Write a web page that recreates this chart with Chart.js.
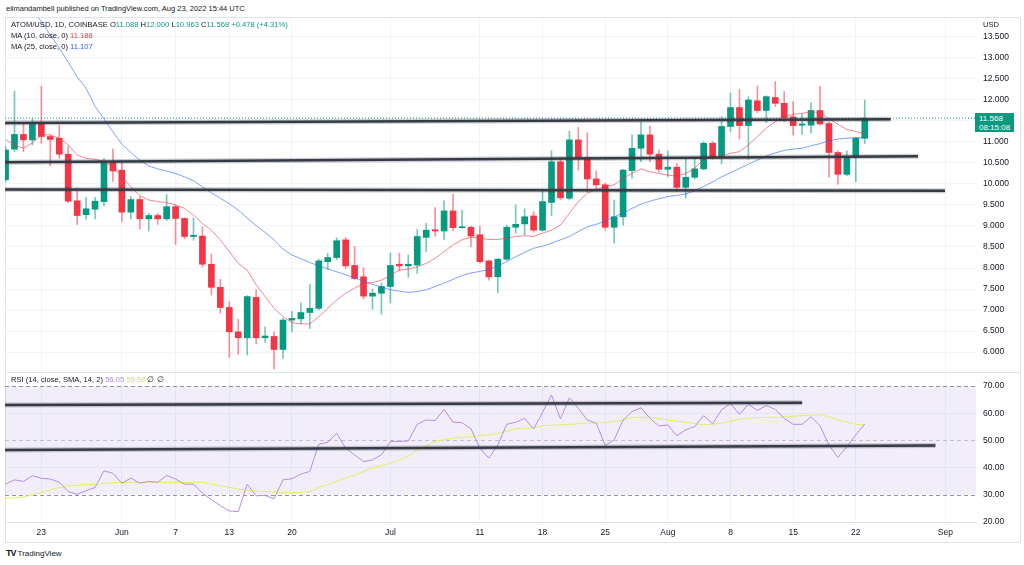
<!DOCTYPE html>
<html><head><meta charset="utf-8">
<script src="https://cdn.jsdelivr.net/npm/chart.js@4.4.0/dist/chart.umd.min.js"></script>
<style>
html,body{margin:0;padding:0;background:#fff;width:1024px;height:565px;overflow:hidden;font-family:'Liberation Sans','Noto Sans',sans-serif;}
.abs{position:absolute;white-space:nowrap;line-height:1;}
#frame{position:absolute;left:5px;top:17px;width:1016px;height:526px;border:1px solid #e0e3eb;box-sizing:border-box;}
#sep{position:absolute;left:5px;top:372px;width:1016px;height:1px;background:#e0e3eb;}
canvas{position:absolute;left:0;}
.g{color:#089981}.r{color:#f23645}.b{color:#2962ff}
</style></head>
<body>
<div id="frame"></div>
<canvas id="cp" width="1024" height="354" style="top:18px"></canvas>
<canvas id="cr" width="1024" height="170" style="top:372px"></canvas>
<div id="sep"></div>
<div class="abs" style="left:6px;top:5px;font-size:7.5px;color:#131722">elimandambell published on TradingView.com, Aug 23, 2022 15:44 UTC</div>
<div class="abs" style="left:11px;top:21px;font-size:7.6px;color:#131722">ATOM/USD, 1D, COINBASE O<span class="g">11.088</span> H<span class="g">12.000</span> L<span class="g">10.963</span> C<span class="g">11.568</span> <span class="g">+0.478 (+4.31%)</span></div>
<div class="abs" style="left:11px;top:32px;font-size:7.6px;color:#131722">MA (10, close, 0) <span class="r">11.188</span></div>
<div class="abs" style="left:11px;top:43px;font-size:7.6px;color:#131722">MA (25, close, 0) <span class="b">11.107</span></div>
<div class="abs" style="left:983px;top:21px;font-size:7.6px;color:#131722">USD</div>
<div class="abs" style="left:975px;top:113px;width:39px;height:19px;background:#089981;color:#fff;font-size:8px;padding:2px 0 0 4px;box-sizing:border-box;line-height:8.5px">11.568<br>08:15:08</div>
<div class="abs" style="left:11px;top:376px;font-size:7.6px;color:#131722">RSI (14, close, SMA, 14, 2) <span style="color:#b98ae6">56.05</span> <span style="color:#d4e84a">55.68</span> ∅ ∅</div>
<div class="abs" style="left:6px;top:549px;font-size:8px;color:#131722"><b style="font-size:9px;letter-spacing:-1px">TV</b> TradingView</div>
<script>
// ---------- data ----------
const dates = ['May 19','May 20','May 21','May 22','May 23','May 24','May 25','May 26','May 27','May 28','May 29','May 30','May 31',
'Jun 1','Jun 2','Jun 3','Jun 4','Jun 5','Jun 6','Jun 7','Jun 8','Jun 9','Jun 10','Jun 11','Jun 12','Jun 13','Jun 14','Jun 15','Jun 16','Jun 17','Jun 18','Jun 19','Jun 20','Jun 21','Jun 22','Jun 23','Jun 24','Jun 25','Jun 26','Jun 27','Jun 28','Jun 29','Jun 30',
'Jul 1','Jul 2','Jul 3','Jul 4','Jul 5','Jul 6','Jul 7','Jul 8','Jul 9','Jul 10','Jul 11','Jul 12','Jul 13','Jul 14','Jul 15','Jul 16','Jul 17','Jul 18','Jul 19','Jul 20','Jul 21','Jul 22','Jul 23','Jul 24','Jul 25','Jul 26','Jul 27','Jul 28','Jul 29','Jul 30','Jul 31',
'Aug 1','Aug 2','Aug 3','Aug 4','Aug 5','Aug 6','Aug 7','Aug 8','Aug 9','Aug 10','Aug 11','Aug 12','Aug 13','Aug 14','Aug 15','Aug 16','Aug 17','Aug 18','Aug 19','Aug 20','Aug 21','Aug 22','Aug 23'];

const open = [10.10,10.83,11.18,11.05,11.42,11.13,11.09,10.71,9.60,9.27,9.40,9.58,10.53,
10.33,9.33,9.63,9.17,9.25,9.17,9.46,9.18,8.75,8.76,8.09,7.54,7.06,6.48,6.34,7.30,6.34,6.37,6.06,6.76,6.79,6.94,7.04,8.15,8.25,8.67,8.06,7.79,7.33,7.40,
7.56,8.09,8.05,8.07,8.73,8.91,8.88,9.36,8.96,8.97,8.79,8.17,7.79,8.21,8.97,9.05,9.24,8.90,9.56,10.53,9.66,11.05,10.63,10.12,9.98,8.97,9.22,10.32,10.85,11.17,10.71,
10.35,10.40,9.92,10.16,10.36,10.97,10.64,11.37,11.82,11.39,11.98,11.75,12.06,11.92,11.60,11.40,11.40,11.75,11.44,10.75,10.23,10.64,11.088];
const high = [10.90,12.21,11.46,11.56,12.33,11.17,11.40,10.89,9.90,9.68,9.68,10.61,10.83,
10.49,9.70,9.70,9.30,9.30,9.75,9.50,9.20,9.19,8.98,8.33,7.73,7.20,6.78,7.34,7.48,6.60,6.48,6.80,6.96,7.17,7.61,8.21,8.35,8.72,8.73,8.51,8.01,7.50,7.64,
8.36,8.35,8.31,8.92,9.06,9.44,9.60,9.76,9.38,8.99,9.00,8.19,8.23,9.02,9.50,9.41,9.34,9.87,10.79,10.64,11.26,11.35,11.22,10.31,10.02,9.62,10.35,11.17,11.48,11.38,10.81,
10.79,10.49,10.61,10.61,11.01,11.01,11.60,12.17,12.25,12.08,12.33,12.10,12.44,12.20,11.96,11.66,11.94,12.33,11.48,10.79,10.79,11.10,12.000];
const low = [10.05,10.77,10.77,10.93,10.97,10.43,10.61,9.55,9.04,9.16,9.17,9.48,10.06,
9.10,9.17,8.93,8.88,9.04,9.13,8.56,8.69,8.66,8.02,7.36,6.92,5.87,5.95,5.93,6.19,6.23,5.59,5.85,6.48,6.67,6.56,7.00,7.97,8.20,7.99,7.72,7.26,7.02,6.90,
7.17,7.94,7.78,7.87,8.39,8.76,8.68,8.89,8.94,8.51,8.12,7.71,7.41,8.18,8.83,8.79,8.85,8.88,9.25,9.62,9.62,10.33,9.82,9.87,8.90,8.60,9.02,10.14,10.53,10.53,10.29,
10.17,9.82,9.66,10.12,10.33,10.59,10.48,11.25,11.07,10.59,11.70,11.46,11.84,11.48,11.17,11.18,11.21,11.40,10.16,9.99,10.20,10.05,10.963];
const close = [10.81,11.18,11.05,11.42,11.13,11.06,10.71,9.59,9.25,9.41,9.59,10.53,10.31,
9.33,9.63,9.17,9.25,9.17,9.46,9.18,8.75,8.78,8.09,7.54,7.06,6.48,6.34,7.32,6.34,6.38,6.06,6.76,6.80,6.94,7.04,8.17,8.25,8.65,8.05,7.75,7.33,7.40,7.56,
8.06,8.05,8.09,8.75,8.90,8.88,9.36,8.96,8.98,8.76,8.15,7.79,8.21,8.97,9.04,9.22,8.90,9.58,10.53,9.67,11.05,10.61,10.12,9.98,8.97,9.22,10.33,10.85,11.17,10.71,10.35,
10.40,9.92,10.16,10.36,10.97,10.63,11.37,11.82,11.39,12.00,11.75,12.08,11.92,11.58,11.39,11.43,11.75,11.43,10.75,10.23,10.64,11.09,11.568];
const ma10 = [11.06,10.93,10.85,10.98,11.17,11.17,11.09,10.93,10.69,10.61,10.59,10.53,10.41,
10.17,9.94,9.72,9.62,9.58,9.56,9.50,9.42,9.26,9.06,8.90,8.67,8.39,8.11,7.95,7.60,7.32,7.04,6.84,6.70,6.67,6.67,6.84,7.04,7.24,7.40,7.52,7.63,7.65,7.71,
7.83,7.95,7.97,8.03,8.11,8.23,8.39,8.55,8.67,8.73,8.71,8.68,8.68,8.71,8.75,8.77,8.75,8.83,8.90,9.02,9.30,9.58,9.78,9.87,9.94,9.98,10.14,10.25,10.36,10.29,10.25,
10.21,10.19,10.25,10.37,10.59,10.63,10.67,10.73,10.77,10.93,11.13,11.33,11.48,11.60,11.66,11.68,11.72,11.70,11.56,11.42,11.30,11.25,11.19];
const ma25 = [15.05,14.75,14.45,14.13,13.87,13.55,13.24,12.90,12.55,12.28,11.85,11.55,11.24,
10.95,10.75,10.57,10.43,10.36,10.31,10.25,10.17,10.08,9.93,9.79,9.66,9.53,9.38,9.19,9.01,8.85,8.67,8.45,8.31,8.22,8.13,8.05,7.98,7.91,7.84,7.76,7.69,7.61,7.55,
7.48,7.45,7.42,7.44,7.48,7.56,7.64,7.73,7.82,7.88,7.92,7.96,8.05,8.15,8.27,8.37,8.47,8.52,8.59,8.67,8.75,8.87,8.98,9.04,9.12,9.22,9.31,9.42,9.52,9.59,9.65,
9.70,9.73,9.76,9.84,9.94,10.05,10.17,10.27,10.37,10.47,10.57,10.67,10.74,10.80,10.83,10.85,10.91,10.96,11.03,11.07,11.09,11.10,11.11];
const rsi = [33.9,35.5,34.9,37.0,36.1,35.8,34.6,31.2,30.2,31.5,32.7,38.8,37.9,
34.3,36.1,34.3,34.9,34.6,37.1,35.8,33.9,33.9,30.6,28.2,26.0,24.1,23.8,33.9,29.6,29.8,28.5,35.5,35.9,37.6,38.6,48.6,49.3,52.6,47.1,44.7,42.2,42.8,44.7,
49.6,49.6,49.8,55.9,57.5,57.3,61.4,56.7,56.5,54.3,47.1,43.5,48.3,55.9,56.7,58.1,54.2,60.3,66.7,57.9,65.7,61.8,57.5,56.3,48.1,50.2,57.5,60.6,62.0,58.1,55.3,
55.7,51.7,53.9,55.1,59.1,56.1,61.2,63.6,59.6,63.3,61.0,62.8,61.4,58.1,55.9,55.9,58.7,55.4,48.3,43.7,47.7,52.0,56.05];
const rsiMa = [28.8,28.9,29.2,30.0,31.0,31.8,32.7,33.3,33.5,33.7,33.7,34.3,34.4,
34.5,34.6,34.6,34.6,34.6,34.6,34.6,34.5,34.6,34.6,33.9,33.3,32.8,32.1,31.7,31.4,31.2,31.0,30.9,30.7,30.9,31.2,32.7,33.8,34.9,36.1,37.3,38.6,39.8,40.7,
41.6,42.8,44.1,46.5,48.0,49.6,50.2,50.8,51.1,51.4,51.8,52.0,52.6,53.4,54.2,54.4,54.7,55.4,55.6,55.7,55.9,56.1,56.3,56.4,56.5,57.0,57.5,58.4,58.5,58.5,58.0,
57.5,57.1,56.7,56.2,55.7,56.0,56.3,57.0,57.8,58.2,58.4,58.5,58.5,58.7,58.9,59.1,59.3,59.4,58.7,57.5,56.7,55.9,55.68];

// x-axis tick positions (day index from May 19) and labels
const dateTickIdx = [4,13,19,25,32,43,53,60,67,74,81,88,95,105];
const dateTickLabels = ['23','Jun','7','13','20','Jul','11','18','25','Aug','8','15','22','Sep'];
const priceTicks = [6,6.5,7,7.5,8,8.5,9,9.5,10,10.5,11,11.5,12,12.5,13,13.5];
const rsiTicks = [20,30,40,50,60,70];
const lastPrice = 11.568;
// drawn trendlines: [x0, y0, x1, y1] in (day index, value)
const priceLines = [[-0.06,11.45,98.9,11.54],[-0.06,10.52,101.96,10.66],[-0.06,9.87,104.97,9.84]];
const rsiLines = [[-0.06,63.0,89.0,63.85],[-0.06,46.5,103.9,48.1]];

// ---------- helpers ----------
const FONT = "'Liberation Sans','Noto Sans',sans-serif";
const XMIN = -0.06, XMAX = 108.43;
const idx = dates.map((d,i)=>i);
const up = idx.map(i=>close[i]>=open[i]);
const GREEN='#089981', RED='#f23645';
const GRID='#f0f3fa';

function xScale(showTicks){
  return {type:'linear',min:XMIN,max:XMAX,offset:false,
    grid:{color:GRID,drawTicks:false,offset:false},
    border:{display:showTicks,color:'#e0e3eb'},
    ticks:{display:showTicks,padding:6,color:'#131722',font:{size:8.5,family:FONT},maxRotation:0,autoSkip:false,
      callback:(v)=>{const k=dateTickIdx.indexOf(v);return k>=0?dateTickLabels[k]:'';}},
    afterBuildTicks:s=>{s.ticks=dateTickIdx.map(v=>({value:v}));},
    afterFit:s=>{s.height=showTicks?20:0;s.paddingLeft=0;s.paddingRight=0;}};
}
function yFit(s){s.width=48;s.paddingTop=0;s.paddingBottom=0;}
function trendDatasets(lines){
  const out=[];
  lines.forEach(l=>{
    const pts=[{x:l[0],y:l[1]},{x:l[2],y:l[3]}];
    out.push({type:'line',data:pts,borderColor:'rgba(54,58,69,0.25)',borderWidth:5,pointRadius:0,order:1});
    out.push({type:'line',data:pts,borderColor:'#363a45',borderWidth:2.5,pointRadius:0,order:0});
  });
  return out;
}

// ---------- price chart ----------
new Chart(document.getElementById('cp'),{
  type:'bar',
  data:{datasets:[
    ...trendDatasets(priceLines),
    {type:'line',data:[{x:XMIN,y:lastPrice},{x:XMAX,y:lastPrice}],borderColor:GREEN,borderWidth:1,borderDash:[1,2],pointRadius:0,order:2},
    {type:'line',data:idx.map(i=>({x:i,y:ma10[i]})),borderColor:'rgba(242,54,69,0.6)',borderWidth:1,pointRadius:0,order:3},
    {type:'line',data:idx.map(i=>({x:i,y:ma25[i]})),borderColor:'rgba(41,98,255,0.6)',borderWidth:1,pointRadius:0,order:3},
    {type:'bar',data:idx.map(i=>({x:i,y:[open[i],close[i]]})),backgroundColor:idx.map(i=>up[i]?GREEN:RED),
      barThickness:6,minBarLength:1,grouped:false,order:4},
    {type:'bar',data:idx.map(i=>({x:i,y:[low[i],high[i]]})),backgroundColor:idx.map(i=>up[i]?'rgba(8,153,129,0.55)':'rgba(242,54,69,0.55)'),
      barThickness:1,grouped:false,order:5}
  ]},
  options:{responsive:false,animation:false,maintainAspectRatio:false,
    layout:{autoPadding:false,padding:{left:5,right:0,top:0,bottom:0}},
    plugins:{legend:{display:false},tooltip:{enabled:false}},
    scales:{
      x:xScale(false),
      y:{position:'right',min:5.524,max:13.952,
        grid:{color:GRID,drawTicks:false},border:{display:false},
        ticks:{padding:7,color:'#131722',font:{size:8.5,family:FONT},callback:v=>Number(v).toFixed(3)},
        afterBuildTicks:s=>{s.ticks=priceTicks.map(v=>({value:v}));},
        afterFit:yFit}
    }}
});

// ---------- RSI chart ----------
const rsiBand={id:'rsiBand',beforeDatasetsDraw(c){
  const {ctx,chartArea:a,scales:{y}}=c;
  ctx.save();
  ctx.fillStyle='rgba(126,87,194,0.1)';
  const y70=y.getPixelForValue(70),y30=y.getPixelForValue(30),y50=y.getPixelForValue(50);
  ctx.fillRect(a.left,y70,a.right-a.left,y30-y70);
  ctx.setLineDash([4,3]);ctx.lineWidth=1;
  ctx.strokeStyle='rgba(120,123,134,0.8)';
  [y70,y30].forEach(p=>{ctx.beginPath();ctx.moveTo(a.left,Math.round(p)+0.5);ctx.lineTo(a.right,Math.round(p)+0.5);ctx.stroke();});
  ctx.strokeStyle='rgba(120,123,134,0.4)';
  ctx.beginPath();ctx.moveTo(a.left,Math.round(y50)+0.5);ctx.lineTo(a.right,Math.round(y50)+0.5);ctx.stroke();
  ctx.restore();
}};
new Chart(document.getElementById('cr'),{
  type:'line',
  data:{datasets:[
    ...trendDatasets(rsiLines),
    {type:'line',data:idx.map(i=>({x:i,y:rsi[i]})),borderColor:'#b98ae6',borderWidth:1,pointRadius:0,order:2},
    {type:'line',data:idx.map(i=>({x:i,y:rsiMa[i]})),borderColor:'#e0ef5c',borderWidth:1,pointRadius:0,order:3}
  ]},
  options:{responsive:false,animation:false,maintainAspectRatio:false,
    layout:{autoPadding:false,padding:{left:5,right:0,top:0,bottom:0}},
    plugins:{legend:{display:false},tooltip:{enabled:false}},
    scales:{
      x:xScale(true),
      y:{position:'right',min:20,max:75.14,
        grid:{color:c=>[30,50,70].includes(c.tick&&c.tick.value)?'rgba(0,0,0,0)':GRID,drawTicks:false},border:{display:false},
        ticks:{padding:7,color:'#131722',font:{size:8.5,family:FONT},callback:v=>Number(v).toFixed(2)},
        afterBuildTicks:s=>{s.ticks=rsiTicks.map(v=>({value:v}));},
        afterFit:yFit}
    }},
  plugins:[rsiBand]
});
</script>
</body></html>
